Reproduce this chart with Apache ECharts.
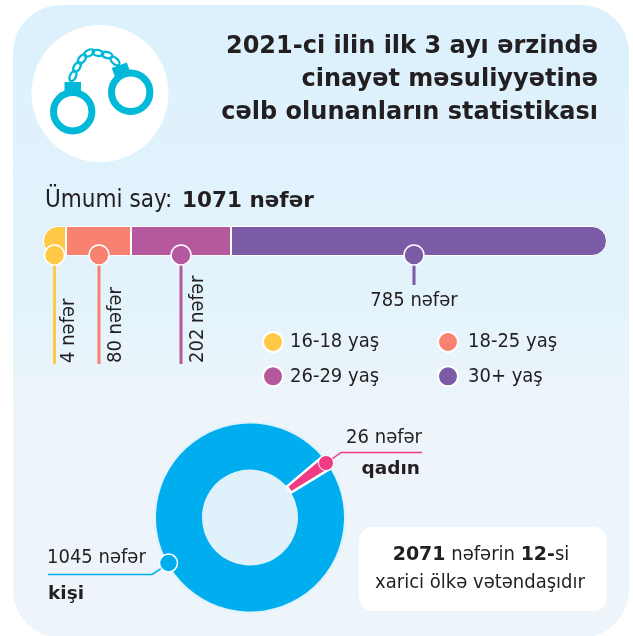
<!DOCTYPE html>
<html>
<head>
<meta charset="utf-8">
<style>html,body{margin:0;padding:0;background:#fff}#chart{width:633px;height:636px}</style>
<script src="https://cdn.jsdelivr.net/npm/echarts@6/dist/echarts.min.js"></script>
</head>
<body>
<div id="chart"></div>
<script>
var ageGroups = ['16-18 yaş', '18-25 yaş', '26-29 yaş', '30+ yaş'];
var ageCounts = [4, 80, 202, 785];
// segment lengths as drawn in the picture: the original bar is not to scale
var ageDrawnLengths = [23, 65, 100, 376];
var genderNames = ['kişi', 'qadın'];
var genderCounts = [1045, 26];
var totalCount = 1071;
var foreignTotal = 2071;
var foreignCount = 12;

var FONT = '"DejaVu Sans Condensed", "DejaVu Sans", sans-serif';
var FONT_BOLD = '"DejaVu Sans", sans-serif';
var INK = '#231f20';
var AGE_COLORS = ['#ffc845', '#f9816f', '#b5589d', '#7b5aa6'];
var BLUE = '#00adef';
var PINK = '#ef3a84';
var CUFF = '#00b9d9';
var UNIT = ' nəfər';

// leader line below each dot: end y, dot shift, label placement
var LEADERS = [
  { endY: 364, dx: 0, rotated: true, labelDx: 14 },
  { endY: 364, dx: 0.5, rotated: true, labelDx: 17 },
  { endY: 364, dx: 0, rotated: true, labelDx: 17 },
  { endY: 285, dx: -5, rotated: false, labelDx: 0 }
];

function ageBarSeries() {
  return ageGroups.map(function (name, i) {
    var radius = 0;
    if (i === 0) radius = [15, 0, 0, 15];
    if (i === ageGroups.length - 1) radius = [0, 15, 15, 0];
    return {
      name: name,
      type: 'bar',
      stack: 'age',
      barWidth: 30,
      itemStyle: { color: AGE_COLORS[i], borderColor: '#fff', borderWidth: 1, borderRadius: radius },
      data: [ageDrawnLengths[i]]
    };
  });
}

function leaderData() {
  var start = 0;
  return ageCounts.map(function (count, i) {
    var mid = start + ageDrawnLengths[i] / 2;
    start += ageDrawnLengths[i];
    return [mid, 0, i];
  });
}

function renderLeader(params, api) {
  var i = api.value(2);
  var cfg = LEADERS[i];
  var p = api.coord([api.value(0), 0]);
  var x = p[0] + cfg.dx;
  var y = 255;
  var text = ageCounts[i] + UNIT;
  var label = cfg.rotated ? {
    type: 'text',
    x: x + cfg.labelDx,
    y: cfg.endY - 1,
    rotation: Math.PI / 2,
    style: { text: text, fill: INK, font: '20px ' + FONT, align: 'left', verticalAlign: 'middle' }
  } : {
    type: 'text',
    x: x,
    y: cfg.endY + 16,
    style: { text: text, fill: INK, font: '20px ' + FONT, align: 'center', verticalAlign: 'middle' }
  };
  return {
    type: 'group',
    children: [
      { type: 'line', shape: { x1: x, y1: y, x2: x, y2: cfg.endY }, style: { stroke: AGE_COLORS[i], lineWidth: 3 } },
      { type: 'circle', shape: { cx: x, cy: y, r: 10 }, style: { fill: AGE_COLORS[i], stroke: '#fff', lineWidth: 1.5 } },
      label
    ]
  };
}

function handcuffs() {
  var links = [[73, 76, -65], [77, 67, -58], [82, 59, -50], [89, 53, -25], [98, 53, 10], [107, 55, 15], [115, 61, 45]];
  var parts = [
    { type: 'circle', shape: { cx: 100, cy: 93.5, r: 68.5 }, style: { fill: '#fff' } },
    { type: 'circle', shape: { cx: 72.7, cy: 111.7, r: 19.2 }, style: { fill: 'none', stroke: CUFF, lineWidth: 7 } },
    { type: 'circle', shape: { cx: 130.7, cy: 92.3, r: 19.2 }, style: { fill: 'none', stroke: CUFF, lineWidth: 7 } },
    { type: 'rect', shape: { x: 64.5, y: 82, width: 16.5, height: 10 }, style: { fill: CUFF } },
    { type: 'rect', x: 121, y: 70, originX: 0, originY: 0, rotation: 0.35, shape: { x: -8, y: -5, width: 16, height: 10 }, style: { fill: CUFF } }
  ];
  links.forEach(function (l) {
    parts.push({
      type: 'ellipse', x: l[0], y: l[1], rotation: -l[2] * Math.PI / 180,
      shape: { cx: 0, cy: 0, rx: 5.5, ry: 3 },
      style: { fill: 'none', stroke: CUFF, lineWidth: 2.3 }
    });
  });
  return parts;
}

function plainText(x, y, text, align, font) {
  return { type: 'text', x: x, y: y, style: { text: text, fill: INK, font: font || ('20px ' + FONT), align: align, verticalAlign: 'middle' } };
}

var backdrop = [
  {
    type: 'rect',
    shape: { x: 13, y: 5, width: 616, height: 633, r: 48 },
    style: {
      fill: new echarts.graphic.LinearGradient(0, 0, 0, 1, [
        { offset: 0, color: '#dcf1fd' },
        { offset: 0.45, color: '#e3f3fb' },
        { offset: 0.65, color: '#edf5fa' },
        { offset: 1, color: '#eef5fa' }
      ])
    }
  },
  { type: 'circle', shape: { cx: 250, cy: 517.5, r: 96 }, style: { fill: '#dff1fb' } },
  { type: 'rect', shape: { x: 359, y: 527, width: 248, height: 84, r: 14 }, style: { fill: '#fff' } },
  {
    type: 'text', x: 481, y: 555,
    style: {
      text: '{b|' + foreignTotal + '}{n| nəfərin }{b|' + foreignCount + '-}{n|si}',
      align: 'center', verticalAlign: 'middle',
      rich: {
        b: { fontWeight: 'bold', fontSize: 19, fontFamily: FONT_BOLD, fill: INK },
        n: { fontSize: 20, fontFamily: FONT, fill: INK }
      }
    }
  },
  plainText(480, 583, 'xarici ölkə vətəndaşıdır', 'center'),
  // donut callouts
  { type: 'polyline', z: 5, shape: { points: [[162, 568], [152, 574.5], [48, 574.5]] }, style: { fill: 'none', stroke: BLUE, lineWidth: 1.5 } },
  { type: 'circle', z: 5, shape: { cx: 168.5, cy: 563, r: 9 }, style: { fill: BLUE, stroke: '#fff', lineWidth: 1.5 } },
  plainText(47, 558, genderCounts[0] + UNIT, 'left'),
  plainText(48, 594, genderNames[0], 'left', 'bold 18.5px ' + FONT_BOLD),
  { type: 'polyline', z: 5, shape: { points: [[332, 459], [341, 452.5], [422, 452.5]] }, style: { fill: 'none', stroke: PINK, lineWidth: 1.5 } },
  { type: 'circle', z: 5, shape: { cx: 326, cy: 463, r: 7.5 }, style: { fill: PINK, stroke: '#fff', lineWidth: 1 } },
  plainText(422, 438, genderCounts[1] + UNIT, 'right'),
  plainText(420, 469, genderNames[1], 'right', 'bold 18.5px ' + FONT_BOLD)
].concat(handcuffs());

var chart = echarts.init(document.getElementById('chart'), null, { renderer: 'canvas' });
chart.setOption({
  animation: false,
  textStyle: { fontFamily: FONT },
  title: [
    {
      text: '2021-ci ilin ilk 3 ayı ərzində\ncinayət məsuliyyətinə\ncəlb olunanların statistikası',
      left: 598, top: 30, padding: 0, textAlign: 'right',
      textStyle: { fontFamily: FONT_BOLD, fontSize: 24, fontWeight: 'bold', color: INK, lineHeight: 33 }
    },
    {
      text: '{n|Ümumi say: }{b|' + totalCount + UNIT + '}',
      left: 45, top: 189, padding: 0,
      textStyle: {
        fontWeight: 'normal',
        rich: {
          n: { fontFamily: FONT, fontSize: 24, fontWeight: 'normal', color: INK, padding: [0, 3, 0, 0] },
          b: { fontFamily: FONT_BOLD, fontSize: 21.5, fontWeight: 'bold', color: INK }
        }
      }
    }
  ],
  legend: [
    {
      data: [ageGroups[0], ageGroups[2]], orient: 'vertical', left: 257, top: 326,
      icon: 'circle', itemWidth: 20, itemHeight: 20, itemGap: 12.3, selectedMode: false,
      textStyle: { fontFamily: FONT, fontSize: 20, color: INK, padding: [0, 0, 0, 2] }
    },
    {
      data: [ageGroups[1], ageGroups[3]], orient: 'vertical', left: 432, top: 326,
      icon: 'circle', itemWidth: 20, itemHeight: 20, itemGap: 12.3, selectedMode: false,
      textStyle: { fontFamily: FONT, fontSize: 20, color: INK, padding: [0, 0, 0, 5] }
    }
  ],
  grid: { left: 43, top: 226, width: 564, height: 30 },
  xAxis: { type: 'value', min: 0, max: 564, show: false },
  yAxis: { type: 'category', data: ['Ümumi say'], show: false },
  graphic: backdrop,
  series: ageBarSeries().concat([
    {
      type: 'custom',
      z: 4,
      silent: true,
      renderItem: renderLeader,
      encode: { x: 0, y: 1 },
      data: leaderData()
    },
    {
      type: 'pie',
      center: [250, 517.5],
      radius: [48, 94],
      startAngle: 31.3,
      silent: true,
      label: { show: false },
      labelLine: { show: false },
      data: [
        { name: genderNames[0], value: genderCounts[0], itemStyle: { color: BLUE } },
        { name: genderNames[1], value: genderCounts[1], itemStyle: { color: PINK, borderColor: '#fff', borderWidth: 2.5 } }
      ]
    }
  ])
});
</script>
</body>
</html>
